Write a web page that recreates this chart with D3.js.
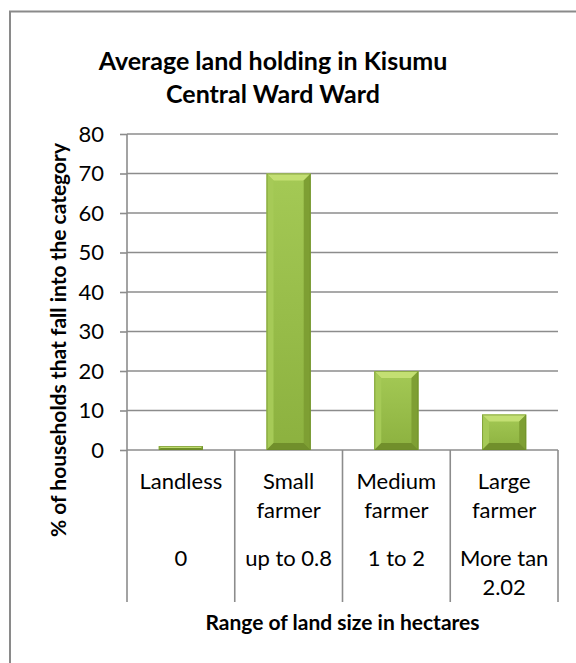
<!DOCTYPE html>
<html>
<head>
<meta charset="utf-8">
<script src="https://cdn.jsdelivr.net/npm/d3@7"></script>
<style>
  html, body { margin: 0; padding: 0; background: #fff; }
  svg { display: block; font-family: Lato, "Open Sans", sans-serif; }
</style>
</head>
<body>
<svg id="chart" width="576" height="663"></svg>
<script>
// ---- data ----
const categories = ["Landless", "Small farmer", "Medium farmer", "Large farmer"];
const categoryLines = [["Landless"], ["Small", "farmer"], ["Medium", "farmer"], ["Large", "farmer"]];
const rangeLines = [["0"], ["up to 0.8"], ["1 to 2"], ["More tan", "2.02"]];
const values = [1, 70, 20, 9];
const yTicks = [0, 10, 20, 30, 40, 50, 60, 70, 80];
const titleLines = ["Average land holding in Kisumu", "Central Ward Ward"];
const yTitle = "% of households that fall into the category";
const xTitle = "Range of land size in hectares";

// ---- layout ----
const svg = d3.select("#chart");
const plot = { left: 127, right: 558, top: 134, bottom: 450 };
const gridColor = "#8c8c8c";

// outer chart border (cropped at right/bottom)
svg.append("rect")
  .attr("x", 10).attr("y", 11.5).attr("width", 700).attr("height", 800)
  .attr("fill", "none").attr("stroke", "#8a8a8a").attr("stroke-width", 2);

const x = d3.scaleBand().domain(categories).range([plot.left, plot.right]).padding(0);
const y = d3.scaleLinear().domain([0, 80]).range([plot.bottom, plot.top]);

// gridlines
svg.append("g").selectAll("line").data(yTicks).join("line")
  .attr("x1", plot.left).attr("x2", plot.right)
  .attr("y1", d => y(d)).attr("y2", d => y(d))
  .attr("stroke", gridColor).attr("stroke-width", 1.6);

// y axis
const yAxis = svg.append("g")
  .attr("transform", `translate(${plot.left},0)`)
  .call(d3.axisLeft(y).tickValues(yTicks).tickSize(7).tickPadding(16).tickFormat(d3.format("d")));
yAxis.select(".domain").remove();
yAxis.selectAll(".tick line").attr("stroke", gridColor).attr("stroke-width", 1.6);
yAxis.selectAll(".tick text").attr("font-size", 22).attr("fill", "#000")
  .attr("font-family", "Lato, sans-serif");

// category dividers (multi-level axis)
const axisBottom = 602;
const dividers = categories.map(c => x(c)).concat([x(categories[categories.length - 1]) + x.bandwidth()]);
svg.append("g").selectAll("line").data(dividers).join("line")
  .attr("x1", d => d).attr("x2", d => d)
  .attr("y1", (d, i) => i === 0 ? plot.top : plot.bottom).attr("y2", axisBottom)
  .attr("stroke", gridColor).attr("stroke-width", 1.6);

// bars with bevel
const defs = svg.append("defs");
const g1 = defs.append("linearGradient").attr("id", "face").attr("x1", 0).attr("y1", 0).attr("x2", 0).attr("y2", 1);
g1.append("stop").attr("offset", "0%").attr("stop-color", "#a4c955");
g1.append("stop").attr("offset", "100%").attr("stop-color", "#8cb13f");

const barFrac = 0.41;
const bars = svg.append("g");
categories.forEach((c, i) => {
  const bw = x.bandwidth() * barFrac;
  const x0 = x(c) + (x.bandwidth() - bw) / 2;
  const x1 = x0 + bw;
  const y0 = y(values[i]);
  const y1 = y(0);
  const h = y1 - y0;
  const b = Math.min(7, h / 2, bw / 2);
  const g = bars.append("g");
  g.append("rect").attr("x", x0).attr("y", y0).attr("width", bw).attr("height", h).attr("fill", "url(#face)");
  const poly = (pts, fill) => g.append("polygon").attr("points", pts.map(p => p.join(",")).join(" ")).attr("fill", fill);
  poly([[x0, y0], [x1, y0], [x1 - b, y0 + b], [x0 + b, y0 + b]], "#c3df73");
  poly([[x0, y0], [x0 + b, y0 + b], [x0 + b, y1 - b], [x0, y1]], "#a6ca57");
  poly([[x1, y0], [x1 - b, y0 + b], [x1 - b, y1 - b], [x1, y1]], "#7e9f33");
  poly([[x0, y1], [x0 + b, y1 - b], [x1 - b, y1 - b], [x1, y1]], "#718f2b");
  g.append("rect").attr("x", x0 + 0.5).attr("y", y0 + 0.5).attr("width", bw - 1).attr("height", Math.max(0, h - 1))
    .attr("fill", "none").attr("stroke", "#6b8a28").attr("stroke-width", 1).attr("stroke-opacity", 0.6);
});

// category labels level 1
const lvl1 = svg.append("g").attr("font-size", 22).attr("text-anchor", "middle").attr("fill", "#000");
categories.forEach((c, i) => {
  categoryLines[i].forEach((t, j) => {
    lvl1.append("text").attr("x", x(c) + x.bandwidth() / 2).attr("y", 489 + j * 28.5).text(t);
  });
  rangeLines[i].forEach((t, j) => {
    lvl1.append("text").attr("x", x(c) + x.bandwidth() / 2).attr("y", 566 + j * 28.5).text(t);
  });
});

// axis titles
svg.append("text")
  .attr("x", (plot.left + plot.right) / 2).attr("y", 630)
  .attr("text-anchor", "middle").attr("font-size", 21).attr("font-weight", "bold").text(xTitle);

svg.append("text")
  .attr("transform", "translate(57,143) rotate(-90)")
  .attr("text-anchor", "end").attr("dominant-baseline", "central")
  .attr("font-size", 21).attr("font-weight", "bold").text(yTitle);

// title
const title = svg.append("g").attr("text-anchor", "middle").attr("font-size", 25).attr("font-weight", "bold");
titleLines.forEach((t, i) => {
  title.append("text").attr("x", 273).attr("y", 70 + i * 33).text(t);
});
</script>
</body>
</html>
